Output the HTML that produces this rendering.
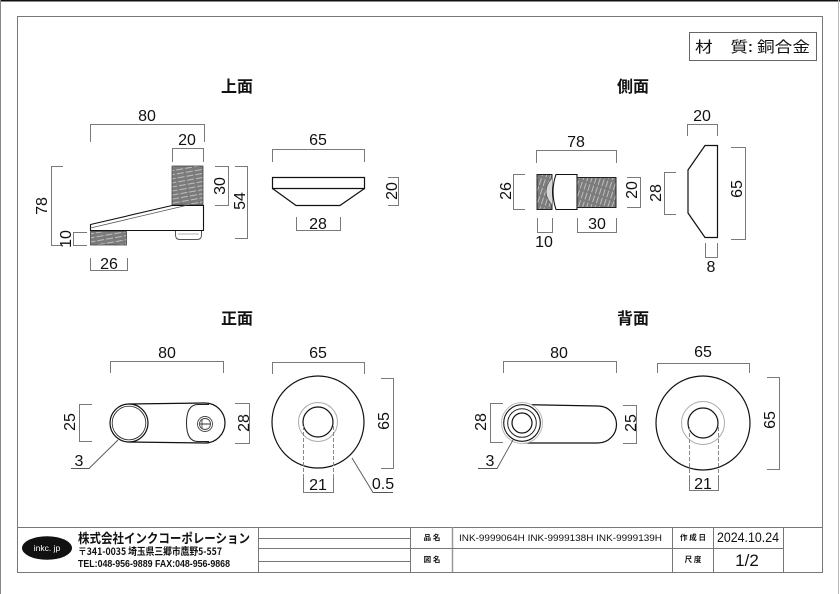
<!DOCTYPE html>
<html><head><meta charset="utf-8">
<style>
html,body{margin:0;padding:0;background:#fff;}
svg{display:block;}
text{font-family:"Liberation Sans","Noto Sans CJK JP",sans-serif;fill:#111;}
.d{fill:none;stroke:#7a7a7a;stroke-width:1;}
.s{fill:none;stroke:#111;stroke-width:1.2;}
.n{font-size:16px;text-anchor:middle;}
.t{font-family:"Noto Sans CJK JP",sans-serif;font-size:16px;font-weight:bold;text-anchor:middle;}
.g{fill:none;stroke:#777;stroke-width:1;}
</style></head>
<body>
<svg width="840" height="594" viewBox="0 0 840 594" xmlns="http://www.w3.org/2000/svg">
<defs>
<pattern id="ha" width="9" height="4" patternUnits="userSpaceOnUse" patternTransform="rotate(-10)">
<rect width="9" height="4" fill="#7b7b7b"/>
<line x1="0" y1="2" x2="7" y2="2" stroke="#cfcfcf" stroke-width="0.8"/>
</pattern>
<pattern id="hb" width="9" height="4" patternUnits="userSpaceOnUse" patternTransform="rotate(-72)">
<rect width="9" height="4" fill="#7b7b7b"/>
<line x1="0" y1="2" x2="7" y2="2" stroke="#cfcfcf" stroke-width="0.8"/>
</pattern>
</defs>

<!-- outer frame -->
<line x1="0" y1="0.75" x2="840" y2="0.75" stroke="#111" stroke-width="1.5"/>
<line x1="0.5" y1="0" x2="0.5" y2="594" stroke="#888" stroke-width="1"/>
<line x1="838.5" y1="0" x2="838.5" y2="594" stroke="#bbb" stroke-width="1"/>
<rect x="17.5" y="16.5" width="805" height="556" class="g"/>

<!-- material box -->
<rect x="689.5" y="32.5" width="127" height="28" fill="#fff" stroke="#666" stroke-width="1"/>
<text x="695" y="52" font-size="15" textLength="115" lengthAdjust="spacingAndGlyphs" style="font-family:'Noto Sans CJK JP',sans-serif">材　質: 銅合金</text>

<!-- titles -->
<text x="237" y="92" class="t">上面</text>
<text x="633" y="92" class="t">側面</text>
<text x="237" y="324" class="t">正面</text>
<text x="633" y="324" class="t">背面</text>

<!-- ===== 上面 ===== -->
<path class="d" d="M90.5 142 V124.5 H204.5 V142"/>
<text x="147" y="121" class="n">80</text>
<path class="d" d="M172.5 162 V148.5 H203.5 V162"/>
<text x="187" y="145" class="n">20</text>
<path class="d" d="M215 166.5 H228.5 V205.5 H215"/>
<text class="n" transform="translate(225,186) rotate(-90)">30</text>
<path class="d" d="M235 166.5 H247.5 V238.5 H235"/>
<text class="n" transform="translate(245,201) rotate(-90)">54</text>
<path class="d" d="M63 166.5 H51.5 V245.5 H63"/>
<text class="n" transform="translate(47,206) rotate(-90)">78</text>
<path class="d" d="M87 232.5 H73.5 V245.5 H87"/>
<text class="n" transform="translate(71,239) rotate(-90)">10</text>
<path class="d" d="M90.5 258 V270.5 H127.5 V258"/>
<text x="109" y="269" class="n">26</text>

<rect x="172" y="166" width="31" height="39" fill="url(#ha)" stroke="#444" stroke-width="0.8"/>
<path d="M90.5 224.5 L172 205.5 H203.5 V230.5 H90.5 Z" fill="#fff" stroke="#111" stroke-width="1.1"/>
<path d="M90.5 228 L186 205.5" fill="none" stroke="#555" stroke-width="0.8"/>
<rect x="90.5" y="231.5" width="36" height="13.5" fill="url(#ha)" stroke="#444" stroke-width="0.8"/>
<path d="M175.5 231 V235 Q175.5 239.5 180 239.5 H197 Q201.5 239.5 201.5 235 V231" fill="#fff" stroke="#555" stroke-width="1"/>
<path d="M178 234 H199" stroke="#999" stroke-width="0.8"/>

<!-- plate top view -->
<path class="d" d="M272.5 162 V149.5 H364.5 V162"/>
<text x="318" y="145" class="n">65</text>
<path class="s" d="M272.5 177.5 H364.5 V188.5 H272.5 Z"/>
<path class="s" d="M272.5 188.5 L296 205.5 H340 L364.5 188.5"/>
<path class="d" d="M296.5 217 V230.5 H340.5 V217"/>
<text x="318" y="229" class="n">28</text>
<path class="d" d="M388 177.5 H398.5 V205.5 H388"/>
<text class="n" transform="translate(397,191) rotate(-90)">20</text>

<!-- ===== 側面 ===== -->
<path class="d" d="M536.5 163 V150.5 H616.5 V163"/>
<text x="576" y="147" class="n">78</text>
<rect x="537" y="174.5" width="15" height="35" fill="url(#hb)" stroke="#222" stroke-width="1"/>
<path d="M552 178 Q540 191.5 552 205" fill="#d8d8d8" stroke="#555" stroke-width="0.8"/>
<path d="M577 174.5 H556 Q550 191.5 556 209.5 H577 Z" fill="#fff" stroke="#111" stroke-width="1.1"/>
<rect x="577" y="177.5" width="39" height="30" fill="url(#hb)" stroke="#222" stroke-width="1"/>
<path class="d" d="M525 174.5 H513.5 V209.5 H525"/>
<text class="n" transform="translate(511,191) rotate(-90)">26</text>
<path class="d" d="M627 177.5 H640.5 V207.5 H627"/>
<text class="n" transform="translate(637,190) rotate(-90)">20</text>
<path class="d" d="M537.5 218 V232.5 H552.5 V218"/>
<text x="544" y="247" class="n">10</text>
<path class="d" d="M577.5 218 V232.5 H616.5 V218"/>
<text x="597" y="229" class="n">30</text>

<path class="d" d="M687.5 136 V124.5 H717.5 V136"/>
<text x="702" y="121" class="n">20</text>
<path class="s" d="M705 145.5 H717.5 V237.5 H705 L688 213 V170 Z"/>
<path class="d" d="M676 172.5 H664.5 V214.5 H676"/>
<text class="n" transform="translate(661,193) rotate(-90)">28</text>
<path class="d" d="M731 147.5 H745.5 V239.5 H731"/>
<text class="n" transform="translate(742,189) rotate(-90)">65</text>
<path class="d" d="M705.5 243 V257.5 H717.5 V243"/>
<text x="711" y="272" class="n">8</text>

<!-- ===== 正面 ===== -->
<path class="d" d="M110.5 373 V361.5 H223.5 V373"/>
<text x="167" y="358" class="n">80</text>
<path class="s" d="M129 404 L205 403 A20 20 0 0 1 205 443 L129 442"/>
<circle cx="129" cy="423" r="19" fill="#fff" stroke="#111" stroke-width="1.2"/>
<circle cx="129" cy="423" r="16.8" fill="none" stroke="#333" stroke-width="0.9"/>
<path d="M209 404.5 H198 Q186.5 404.5 186.5 423 Q186.5 441.5 198 441.5 H209" fill="none" stroke="#222" stroke-width="1"/>
<circle cx="205" cy="424" r="7.5" fill="none" stroke="#444" stroke-width="0.9"/>
<circle cx="205" cy="424" r="5.5" fill="none" stroke="#444" stroke-width="0.9"/>
<path d="M199.5 424 H210.5" stroke="#333" stroke-width="1"/>
<path d="M202 419 V429" stroke="#333" stroke-width="0.8"/>
<path class="d" d="M92 404.5 H79.5 V441.5 H92"/>
<text class="n" transform="translate(75,422) rotate(-90)">25</text>
<path class="d" d="M235 403.5 H249.5 V443.5 H235"/>
<text class="n" transform="translate(249,423) rotate(-90)">28</text>
<path d="M118 440 L89 468.5 H71" fill="none" stroke="#555" stroke-width="0.9"/>
<text x="79" y="466" class="n">3</text>

<path class="d" d="M272.5 374 V362.5 H364.5 V374"/>
<text x="318" y="358" class="n">65</text>
<circle cx="318" cy="422" r="46" fill="none" stroke="#111" stroke-width="1.2"/>
<circle cx="318" cy="422" r="19.5" fill="none" stroke="#aaa" stroke-width="1"/>
<circle cx="318" cy="422" r="15" fill="none" stroke="#111" stroke-width="1.2"/>
<path class="d" d="M381 378.5 H393.5 V468.5 H381"/>
<text class="n" transform="translate(389,421) rotate(-90)">65</text>
<path d="M303.5 426 V478 M333.5 426 V478" stroke="#888" stroke-width="1" stroke-dasharray="4,2"/>
<path class="d" d="M303.5 478 V492.5 H333.5 V478"/>
<text x="318" y="490" class="n">21</text>
<path d="M352 458 L373 492.5 H393" fill="none" stroke="#555" stroke-width="0.9"/>
<text x="383" y="489" class="n">0.5</text>

<!-- ===== 背面 ===== -->
<path class="d" d="M503.5 373 V361.5 H616.5 V373"/>
<text x="559" y="358" class="n">80</text>
<path class="s" d="M518 404.5 L598 406 A18.5 18.5 0 0 1 598 443 L523 443"/>
<circle cx="522" cy="423" r="20.5" fill="#fff" stroke="#bbb" stroke-width="1"/>
<circle cx="522" cy="423" r="18.3" fill="none" stroke="#111" stroke-width="1.1"/>
<circle cx="522" cy="423" r="14.3" fill="none" stroke="#222" stroke-width="1"/>
<circle cx="522" cy="423" r="10" fill="none" stroke="#111" stroke-width="1.2"/>
<path class="d" d="M503 403.5 H490.5 V442.5 H503"/>
<text class="n" transform="translate(486,422) rotate(-90)">28</text>
<path class="d" d="M623 405.5 H636.5 V443.5 H623"/>
<text class="n" transform="translate(636,423) rotate(-90)">25</text>
<path d="M513 440 L497 468.5 H478" fill="none" stroke="#555" stroke-width="0.9"/>
<text x="490" y="466" class="n">3</text>

<path class="d" d="M657.5 373 V363.5 H749.5 V373"/>
<text x="703" y="357" class="n">65</text>
<circle cx="703" cy="423" r="47" fill="none" stroke="#111" stroke-width="1.2"/>
<circle cx="703" cy="423" r="21.5" fill="none" stroke="#aaa" stroke-width="1"/>
<circle cx="703" cy="423" r="15" fill="none" stroke="#111" stroke-width="1.2"/>
<path class="d" d="M767 377.5 H779.5 V469.5 H767"/>
<text class="n" transform="translate(775,420) rotate(-90)">65</text>
<path d="M689.5 427 V476 M718.5 427 V476" stroke="#888" stroke-width="1" stroke-dasharray="4,2"/>
<path class="d" d="M689.5 476 V490.5 H718.5 V476"/>
<text x="703" y="489" class="n">21</text>

<!-- ===== title block ===== -->
<line x1="17" y1="527.5" x2="822" y2="527.5" stroke="#777"/>
<line x1="258.5" y1="527" x2="258.5" y2="572" stroke="#777"/>
<line x1="258" y1="538.5" x2="410" y2="538.5" stroke="#777"/>
<line x1="258" y1="548.5" x2="410" y2="548.5" stroke="#777"/>
<line x1="258" y1="561.5" x2="410" y2="561.5" stroke="#777"/>
<line x1="410.5" y1="527" x2="410.5" y2="572" stroke="#777"/>
<line x1="452.5" y1="527" x2="452.5" y2="572" stroke="#999" stroke-width="1.5"/>
<line x1="410" y1="548.5" x2="783" y2="548.5" stroke="#777"/>
<line x1="672.5" y1="527" x2="672.5" y2="572" stroke="#777"/>
<line x1="713.5" y1="527" x2="713.5" y2="572" stroke="#777"/>
<line x1="783.5" y1="527" x2="783.5" y2="572" stroke="#777"/>

<ellipse cx="47" cy="548" rx="25" ry="11.8" fill="#111"/>
<text x="47" y="551" font-size="8.5" text-anchor="middle" style="fill:#fff">inkc. jp</text>
<text x="78" y="543" font-size="13" font-weight="bold" textLength="172" lengthAdjust="spacingAndGlyphs" style="font-family:'Noto Sans CJK JP',sans-serif">株式会社インクコーポレーション</text>
<text x="78" y="555" font-size="10" font-weight="bold" textLength="144" lengthAdjust="spacingAndGlyphs" style="font-family:'Noto Sans CJK JP',sans-serif">〒341-0035 埼玉県三郷市鷹野5-557</text>
<text x="78" y="567" font-size="10" font-weight="bold" textLength="152" lengthAdjust="spacingAndGlyphs">TEL:048-956-9889  FAX:048-956-9868</text>

<text x="432" y="540" font-size="7.5" font-weight="bold" text-anchor="middle" style="font-family:'Noto Sans CJK JP',sans-serif">品 名</text>
<text x="459" y="541" font-size="9.5" textLength="203" lengthAdjust="spacingAndGlyphs">INK-9999064H  INK-9999138H  INK-9999139H</text>
<text x="693" y="540" font-size="7.5" font-weight="bold" text-anchor="middle" style="font-family:'Noto Sans CJK JP',sans-serif">作 成 日</text>
<text x="748" y="542" font-size="14" text-anchor="middle" textLength="62" lengthAdjust="spacingAndGlyphs">2024.10.24</text>
<text x="432" y="562" font-size="7.5" font-weight="bold" text-anchor="middle" style="font-family:'Noto Sans CJK JP',sans-serif">図 名</text>
<text x="693" y="562" font-size="7.5" font-weight="bold" text-anchor="middle" style="font-family:'Noto Sans CJK JP',sans-serif">尺 度</text>
<text x="747" y="566" font-size="17" text-anchor="middle">1/2</text>
</svg>
</body></html>
